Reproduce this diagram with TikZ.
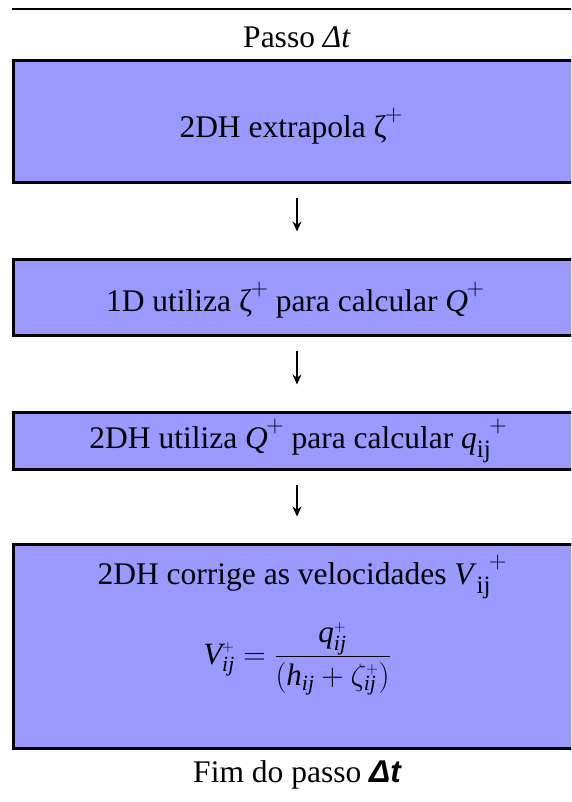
\RequirePackage{fix-cm}
\documentclass[tikz,border=0pt]{standalone}
\usepackage{fontspec}
\setmainfont{Liberation Serif}
\newfontfamily\arialf{Liberation Sans}
\usetikzlibrary{arrows.meta}
\definecolor{boxblue}{RGB}{153,153,255}
\newcommand{\plussup}{\kern-1.5pt\raisebox{0.5em}{\fontsize{24}{24}\selectfont$+$}}
\newcommand{\ijsub}{\raisebox{-0.28em}{\fontsize{25}{25}\selectfont ij}}
\begin{document}
\begin{tikzpicture}[x=1pt,y=-1pt,
  box/.style={draw=black, line width=3pt, fill=boxblue, minimum width=568pt, inner sep=0pt},
  lbl/.style={font=\fontsize{31.5}{35}\selectfont, inner sep=0pt},
  frm/.style={font=\fontsize{31}{35}\selectfont, inner sep=0pt},
  arr/.style={line width=1.3pt, -{Stealth[length=10pt,width=9pt]}}]
\useasboundingbox (0,0) rectangle (571,802);
\clip (0,0) rectangle (571,802);
\coordinate (tl) at (12,9);
\coordinate (tr) at (575,9);
\draw[line width=2pt] (tl) -- (tr);
\node[lbl] (top) at (297,37) {Passo \textit{Δt}};
\node[box, minimum height=122pt] (b1) at (297,122) {};
\node[lbl] (t1) at (291,126) {2DH extrapola ζ\plussup};
\node[box, minimum height=76pt] (b2) at (297,297) {};
\node[lbl] (t2) at (295,300) {1D utiliza ζ\plussup{} para calcular \textit{Q}\plussup};
\node[box, minimum height=57pt] (b3) at (297,440.5) {};
\node[lbl] (t3) at (298,441) {2DH utiliza \textit{Q}\plussup{} para calcular \textit{q}\ijsub\plussup};
\node[box, minimum height=204pt] (b4) at (297,646) {};
\node[lbl] (t4) at (302,577) {2DH corrige as velocidades \textit{V}\ijsub\plussup};
\node[frm] (f4) at (297,659) {$\displaystyle \mathit{V}^{\scriptscriptstyle +}_{\mathit{ij}} = \frac{\mathit{q}^{\scriptscriptstyle +}_{\mathit{ij}}}{(\mathit{h}_{\mathit{ij}} + \zeta^{\scriptscriptstyle +}_{\mathit{ij}})}$};
\node[lbl] (bot) at (297,775) {Fim do passo {\arialf\bfseries\itshape Δt}};
\draw[arr] ([yshift=-14pt]b1.south) -- ([yshift=26pt]b2.north);
\draw[arr] ([yshift=-14pt]b2.south) -- ([yshift=26pt]b3.north);
\draw[arr] ([yshift=-14pt]b3.south) -- ([yshift=26pt]b4.north);
\end{tikzpicture}
\end{document}
